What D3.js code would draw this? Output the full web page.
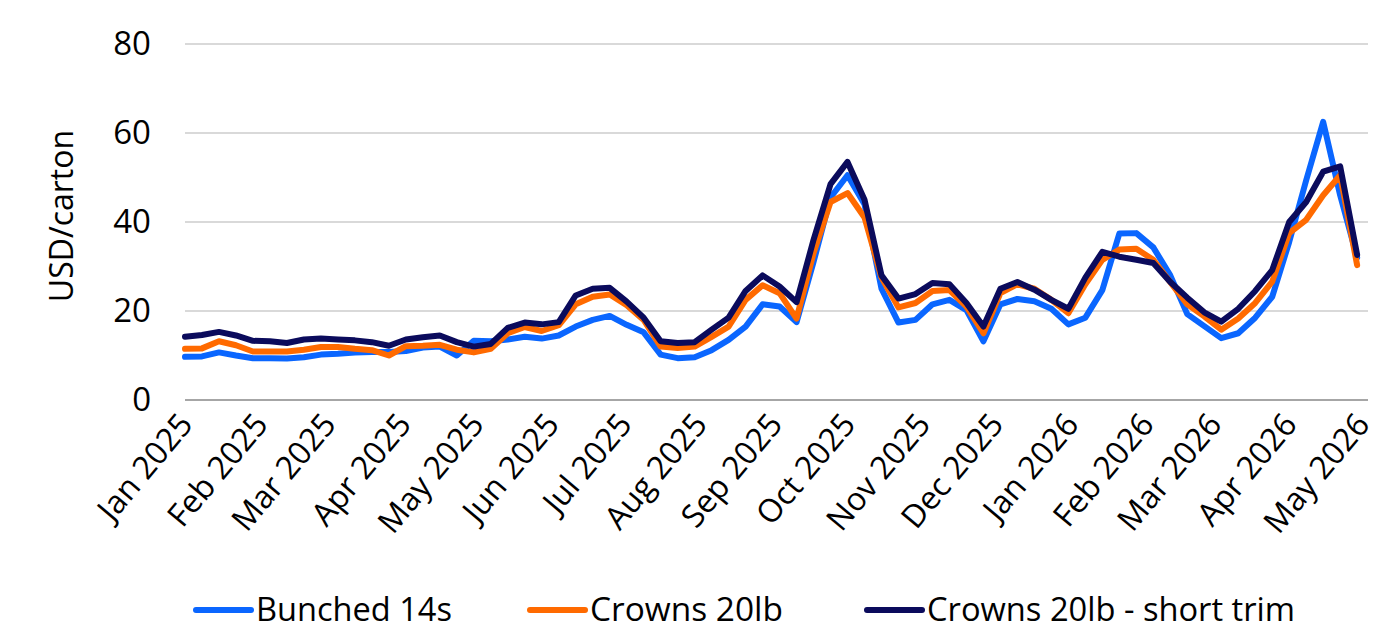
<!DOCTYPE html>
<html>
<head>
<meta charset="utf-8">
<script src="https://cdn.jsdelivr.net/npm/d3@7"></script>
<style>
  body { margin: 0; background: #fff; }
  svg { display: block; font-family: "Open Sans", "Noto Sans", sans-serif; }
</style>
</head>
<body>
<svg width="1378" height="633"></svg>
<script>
// weekly prices, USD/carton, starting 1 Jan 2025
var seriesNames = ['Bunched 14s', 'Crowns 20lb', 'Crowns 20lb - short trim'];
var seriesColors = ['#0a66ff', '#ff6a00', '#0b0b5c'];

var bunched14s = [
  9.7, 9.8, 10.7, 10.0, 9.4, 9.4, 9.3, 9.6, 10.2, 10.4,
  10.7, 10.8, 10.8, 11.0, 11.8, 12.0, 10.0, 13.3, 13.2, 13.6,
  14.2, 13.8, 14.5, 16.5, 18.0, 18.9, 16.9, 15.2, 10.2, 9.4,
  9.6, 11.2, 13.5, 16.5, 21.5, 21.0, 17.5, 31.0, 45.5, 50.5,
  44.0, 25.0, 17.4, 18.0, 21.5, 22.5, 20.2, 13.2, 21.5, 22.7,
  22.2, 20.5, 17.0, 18.5, 24.7, 37.4, 37.5, 34.3, 28.0, 19.3,
  16.6, 13.9, 15.0, 18.5, 23.2, 35.5, 49.4, 62.5, 46.0, 32.0
];
var crowns20lb = [
  11.5, 11.6, 13.2, 12.3, 10.9, 10.9, 10.9, 11.3, 11.9, 11.9,
  11.5, 11.2, 10.0, 12.1, 12.2, 12.4, 11.3, 10.7, 11.5, 15.0,
  16.4, 15.5, 16.8, 21.5, 23.2, 23.7, 21.3, 18.0, 12.0, 11.7,
  12.0, 14.2, 16.5, 22.5, 25.8, 24.0, 18.3, 33.0, 44.5, 46.5,
  41.0, 27.5, 20.8, 21.8, 24.5, 24.7, 21.0, 15.0, 24.0, 26.0,
  25.0, 22.5, 19.5, 26.0, 31.5, 33.8, 34.0, 31.5, 26.5, 21.5,
  18.8, 15.8, 18.3, 21.8, 26.6, 37.5, 40.5, 46.0, 50.5, 30.3
];
var crowns20lbShortTrim = [
  14.2, 14.6, 15.3, 14.5, 13.3, 13.2, 12.8, 13.6, 13.8, 13.6,
  13.4, 13.0, 12.2, 13.6, 14.1, 14.5, 13.0, 12.0, 12.6, 16.2,
  17.4, 17.0, 17.5, 23.5, 25.0, 25.2, 22.1, 18.5, 13.2, 12.8,
  13.0, 15.8, 18.5, 24.5, 28.0, 25.5, 22.0, 36.0, 48.5, 53.5,
  45.0, 28.0, 22.8, 23.8, 26.3, 26.0, 21.8, 16.5, 25.0, 26.5,
  24.8, 22.5, 20.5, 27.5, 33.3, 32.2, 31.5, 30.8, 26.5, 23.0,
  19.7, 17.6, 20.5, 24.5, 29.2, 40.0, 44.5, 51.3, 52.5, 32.6
];
var yTicks = [0, 20, 40, 60, 80];

var startDate = new Date(2025, 0, 1);
var endDate = new Date(2026, 4, 1);
var weeks = d3.timeDay.range(startDate, endDate, 7);
var allSeries = [bunched14s, crowns20lb, crowns20lbShortTrim];

var svg = d3.select('svg');
var plotLeft = 185, plotRight = 1362, plotTop = 44, plotBottom = 400;
var font = '"Open Sans", "Noto Sans", sans-serif';

var x = d3.scaleTime().domain([startDate, endDate]).range([plotLeft, plotRight]);
var y = d3.scaleLinear().domain([0, 80]).range([plotBottom, plotTop]);

// gridlines
svg.append('g')
  .selectAll('line')
  .data(yTicks)
  .enter().append('line')
    .attr('x1', plotLeft)
    .attr('x2', 1368)
    .attr('y1', function(d) { return y(d); })
    .attr('y2', function(d) { return y(d); })
    .attr('stroke', function(d) { return d === 0 ? '#a6a6a6' : '#d9d9d9'; })
    .attr('stroke-width', 2);

// Y axis labels
var yAxis = svg.append('g')
  .attr('transform', 'translate(' + plotLeft + ',0)')
  .call(d3.axisLeft(y).tickValues(yTicks).tickSize(0).tickPadding(34));
yAxis.attr('font-family', font);
yAxis.select('.domain').remove();
yAxis.selectAll('text')
  .attr('font-size', 33)
  .attr('fill', '#000');

svg.append('text')
  .attr('transform', 'translate(73,' + 216 + ') rotate(-90)')
  .attr('text-anchor', 'middle')
  .attr('font-size', 32)
  .attr('fill', '#000')
  .text('USD/carton');

// X axis labels
var xAxis = svg.append('g')
  .attr('transform', 'translate(0,' + plotBottom + ')')
  .call(d3.axisBottom(x).ticks(d3.timeMonth.every(1)).tickFormat(d3.timeFormat('%b %Y')).tickSize(0));
xAxis.attr('font-family', font);
xAxis.select('.domain').remove();
xAxis.selectAll('text')
  .attr('font-size', 32)
  .attr('fill', '#000')
  .attr('text-anchor', 'end')
  .attr('dy', '0.35em')
  .attr('transform', 'translate(-2,16) rotate(-50)');

// lines
var line = d3.line()
  .x(function(d, i) { return x(weeks[i]); })
  .y(function(d) { return y(d); });

svg.append('g')
  .selectAll('path')
  .data(allSeries)
  .enter().append('path')
    .attr('fill', 'none')
    .attr('stroke', function(d, i) { return seriesColors[i]; })
    .attr('stroke-width', 6)
    .attr('stroke-linejoin', 'round')
    .attr('stroke-linecap', 'round')
    .attr('d', line);

// legend
var legendX = [196, 530, 867];
var legendW = [196, 193, 368];
var legend = svg.append('g')
  .selectAll('g')
  .data(seriesNames)
  .enter().append('g')
    .attr('transform', function(d, i) { return 'translate(' + legendX[i] + ',610)'; });
legend.append('line')
  .attr('x1', 0).attr('x2', 55)
  .attr('stroke', function(d, i) { return seriesColors[i]; })
  .attr('stroke-width', 6)
  .attr('stroke-linecap', 'round');
legend.append('text')
  .attr('x', 60)
  .attr('dy', '0.35em')
  .attr('font-size', 32)
  .attr('fill', '#000')
  .attr('textLength', function(d, i) { return legendW[i]; })
  .attr('lengthAdjust', 'spacingAndGlyphs')
  .text(function(d) { return d; });
</script>
</body>
</html>
